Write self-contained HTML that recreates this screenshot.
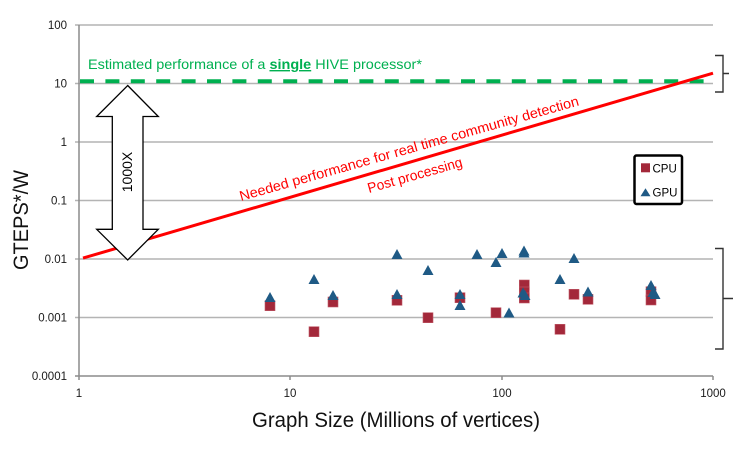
<!DOCTYPE html>
<html>
<head>
<meta charset="utf-8">
<style>
  html,body{margin:0;padding:0;background:#fff;}
  svg{display:block;}
  text{font-family:"Liberation Sans","DejaVu Sans",sans-serif;}
</style>
</head>
<body>
<svg width="740" height="450" viewBox="0 0 740 450" xmlns="http://www.w3.org/2000/svg">
  <rect x="0" y="0" width="740" height="450" fill="#ffffff"/>

  <!-- gridlines -->
  <g stroke="#b4b4b4" stroke-width="1.5">
    <line x1="75" y1="25" x2="713" y2="25"/>
    <line x1="75" y1="83.5" x2="713" y2="83.5"/>
    <line x1="75" y1="142" x2="713" y2="142"/>
    <line x1="75" y1="200.5" x2="713" y2="200.5"/>
    <line x1="75" y1="259" x2="713" y2="259"/>
    <line x1="75" y1="317.5" x2="713" y2="317.5"/>
  </g>
  <!-- axes -->
  <g stroke="#8c8c8c" stroke-width="1.5">
    <line x1="79" y1="25" x2="79" y2="376"/>
    <line x1="75" y1="376" x2="713" y2="376"/>
    <line x1="79" y1="376" x2="79" y2="380"/>
    <line x1="290" y1="376" x2="290" y2="380"/>
    <line x1="502" y1="376" x2="502" y2="380"/>
    <line x1="713" y1="376" x2="713" y2="380"/>
  </g>

  <!-- y tick labels -->
  <g font-size="11.5" fill="#1a1a1a" text-anchor="end">
    <text x="67" y="29">100</text>
    <text x="67" y="87.5">10</text>
    <text x="67" y="146">1</text>
    <text x="67" y="204.5">0.1</text>
    <text x="67" y="263">0.01</text>
    <text x="67" y="321.5">0.001</text>
    <text x="67" y="380">0.0001</text>
  </g>
  <!-- x tick labels -->
  <g font-size="11.5" fill="#1a1a1a" text-anchor="middle">
    <text x="79" y="397">1</text>
    <text x="290" y="397">10</text>
    <text x="502" y="397">100</text>
    <text x="713" y="397">1000</text>
  </g>

  <!-- axis titles -->
  <text x="252" y="427" font-size="21" fill="#111" textLength="288" lengthAdjust="spacingAndGlyphs">Graph Size (Millions of vertices)</text>
  <text transform="translate(28,220) rotate(-90)" x="0" y="0" font-size="21" fill="#111" text-anchor="middle" textLength="100" lengthAdjust="spacingAndGlyphs">GTEPS*/W</text>

  <!-- green dashed line -->
  <line x1="80" y1="81.3" x2="704" y2="81.3" stroke="#00b050" stroke-width="4" stroke-dasharray="14 11.4"/>
  <text x="88" y="69" font-size="14" fill="#00b050" textLength="334" lengthAdjust="spacingAndGlyphs">Estimated performance of a <tspan font-weight="bold" text-decoration="underline">single</tspan> HIVE processor*</text>

  <!-- red line -->
  <line x1="83" y1="258.1" x2="713" y2="73.2" stroke="#ff0000" stroke-width="3"/>
  <text transform="translate(241,201) rotate(-15.8)" x="0" y="0" font-size="14" fill="#ff0000" textLength="352" lengthAdjust="spacingAndGlyphs">Needed performance for real time community detection</text>
  <text transform="translate(369,193) rotate(-15.8)" x="0" y="0" font-size="14" fill="#ff0000" textLength="98" lengthAdjust="spacingAndGlyphs">Post processing</text>

  <!-- double arrow -->
  <polygon points="127.7,85.5 158.3,116.5 143,116.5 143,229.3 158.3,229.3 127.7,260 96.7,229.3 112.3,229.3 112.3,116.5 96.7,116.5"
           fill="#ffffff" stroke="#000" stroke-width="1.3" stroke-linejoin="miter"/>
  <text transform="translate(132,172) rotate(-90)" x="0" y="0" font-size="14" fill="#000" text-anchor="middle">1000X</text>

  <!-- CPU squares -->
  <g fill="#a3283a" stroke="#c05a68" stroke-width="0.6">
    <rect x="265" y="300.7" width="10" height="10"/>
    <rect x="309" y="326.7" width="10" height="10"/>
    <rect x="328" y="297" width="10" height="10"/>
    <rect x="392" y="295.3" width="10" height="10"/>
    <rect x="423" y="312.7" width="10" height="10"/>
    <rect x="455" y="292.7" width="10" height="10"/>
    <rect x="491" y="307.7" width="10" height="10"/>
    <rect x="519.3" y="280" width="10" height="10"/>
    <rect x="519.3" y="287" width="10" height="10"/>
    <rect x="519.3" y="293" width="10" height="10"/>
    <rect x="555" y="324.3" width="10" height="10"/>
    <rect x="569" y="289.3" width="10" height="10"/>
    <rect x="583" y="294.3" width="10" height="10"/>
    <rect x="646" y="286.7" width="10" height="10"/>
    <rect x="646" y="295" width="10" height="10"/>
  </g>

  <!-- GPU triangles -->
  <g fill="#1f5a85">
    <polygon points="270,292 264.5,302 275.5,302"/>
    <polygon points="314,274 308.5,284 319.5,284"/>
    <polygon points="333,290 327.5,300 338.5,300"/>
    <polygon points="397,249 391.5,259 402.5,259"/>
    <polygon points="397,289 391.5,299 402.5,299"/>
    <polygon points="428,265 422.5,275 433.5,275"/>
    <polygon points="460,289 454.5,299 465.5,299"/>
    <polygon points="460,300 454.5,310 465.5,310"/>
    <polygon points="477,249 471.5,259 482.5,259"/>
    <polygon points="502,248 496.5,258 507.5,258"/>
    <polygon points="496,257 490.5,267 501.5,267"/>
    <polygon points="524,247.5 518.5,257.5 529.5,257.5"/>
    <polygon points="524,245.5 518.5,255.5 529.5,255.5"/>
    <polygon points="523,287.5 517.5,297.5 528.5,297.5"/>
    <polygon points="525,290 519.5,300 530.5,300"/>
    <polygon points="509,307.5 503.5,317.5 514.5,317.5"/>
    <polygon points="560,274 554.5,284 565.5,284"/>
    <polygon points="574,253 568.5,263 579.5,263"/>
    <polygon points="588,286.5 582.5,296.5 593.5,296.5"/>
    <polygon points="651,280 645.5,290 656.5,290"/>
    <polygon points="653,287 647.5,297 658.5,297"/>
    <polygon points="655,289 649.5,299 660.5,299"/>
  </g>

  <!-- legend -->
  <rect x="634.5" y="155.5" width="47.5" height="48.5" rx="2" fill="#ffffff" stroke="#000" stroke-width="2.5"/>
  <rect x="641" y="163.3" width="9" height="9" fill="#a3283a"/>
  <text x="652.5" y="172.3" font-size="11.5" fill="#000">CPU</text>
  <polygon points="645.5,188.3 640.5,196.3 650.5,196.3" fill="#1f5a85"/>
  <text x="652.5" y="196.3" font-size="11.5" fill="#000">GPU</text>

  <!-- brackets -->
  <g fill="none" stroke="#333" stroke-width="1.4">
    <path d="M715,55.5 L723,55.5 L723,73.5 L729,73.5 M723,73.5 L723,92 L715,92"/>
    <path d="M715,248.5 L723,248.5 L723,298.5 L733,298.5 M723,298.5 L723,349 L715,349"/>
  </g>
</svg>
</body>
</html>
